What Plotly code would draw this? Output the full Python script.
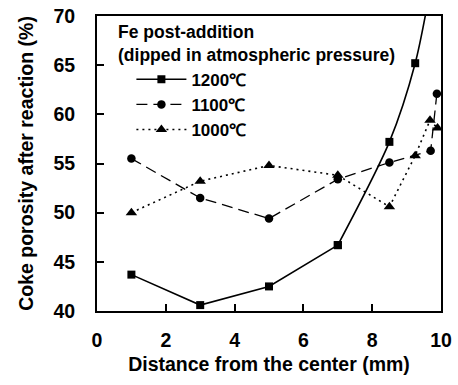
import plotly.graph_objects as go

# Data
x_1200 = [1, 3, 5, 7, 8.5, 9.25, 9.7]
y_1200 = [43.7, 40.6, 42.5, 46.7, 57.2, 65.2, 73.0]
x_1100 = [1, 3, 5, 7, 8.5, 9.7, 9.88]
y_1100 = [55.5, 51.5, 49.4, 53.4, 55.1, 56.3, 62.1]
x_1000 = [1, 3, 5, 7, 8.5, 9.25, 9.68, 9.9]
y_1000 = [50.0, 53.2, 54.8, 53.8, 50.6, 55.8, 59.4, 58.6]
names = ["1200℃", "1100℃", "1000℃"]
x_ticks = [0, 2, 4, 6, 8, 10]
y_ticks = [40, 45, 50, 55, 60, 65, 70]

FONT = "Liberation Sans, Arial, sans-serif"
BLACK = "#000000"

fig = go.Figure()

# 1200 C: straight segments up to x=7, smooth curve afterwards
fig.add_trace(go.Scatter(
    x=x_1200[:4], y=y_1200[:4], mode="lines+markers", name=names[0],
    legendgroup="a", showlegend=True,
    line=dict(color=BLACK, width=1.6),
    marker=dict(symbol="square", size=8, color=BLACK)))
fig.add_trace(go.Scatter(
    x=x_1200[3:], y=y_1200[3:], mode="lines+markers", name=names[0],
    legendgroup="a", showlegend=False,
    line=dict(color=BLACK, width=1.6, shape="spline", smoothing=0.8),
    marker=dict(symbol="square", size=8, color=BLACK)))
fig.add_trace(go.Scatter(
    x=x_1100, y=y_1100, mode="lines+markers", name=names[1],
    line=dict(color=BLACK, width=1.3, dash="11px,6px"),
    marker=dict(symbol="circle", size=8.5, color=BLACK)))
fig.add_trace(go.Scatter(
    x=x_1000, y=y_1000, mode="lines+markers", name=names[2],
    line=dict(color=BLACK, width=1.6, dash="2px,4px"),
    marker=dict(symbol="triangle-up", size=10, color=BLACK)))

fig.add_annotation(
    xref="paper", yref="paper", x=0.056, y=0.985, xanchor="left", yanchor="top",
    align="left", showarrow=False,
    text="Fe post-addition<br>(dipped in atmospheric pressure)",
    font=dict(family=FONT, size=17.5, color=BLACK, weight="bold"))

axis_common = dict(
    showline=True, linecolor=BLACK, linewidth=2, mirror=True,
    showgrid=False, zeroline=False, ticks="inside", ticklen=7, tickwidth=2,
    tickcolor=BLACK,
    tickfont=dict(family=FONT, size=19.5, color=BLACK, weight="bold"))

fig.update_xaxes(range=[0, 10], tickvals=x_ticks, ticktext=[str(v) for v in x_ticks],
                 ticklabelstandoff=11,
                 title=dict(text="Distance from the center (mm)", standoff=7,
                            font=dict(family=FONT, size=19.5, color=BLACK, weight="bold")),
                 **axis_common)
fig.update_yaxes(range=[40, 70], tickvals=y_ticks, ticktext=[str(v) for v in y_ticks],
                 ticklabelstandoff=16,
                 title=dict(text="Coke porosity after reaction (%)", standoff=15,
                            font=dict(family=FONT, size=19.5, color=BLACK, weight="bold")),
                 **axis_common)

fig.update_layout(
    width=458, height=385,
    margin=dict(l=97, r=17, t=16, b=74, autoexpand=False),
    paper_bgcolor="white", plot_bgcolor="white",
    font=dict(family=FONT, color=BLACK, weight="bold"),
    legend=dict(x=0.1, y=0.845, xanchor="left", yanchor="top",
                bgcolor="rgba(0,0,0,0)", borderwidth=0, itemwidth=50,
                tracegroupgap=0,
                font=dict(family=FONT, size=17, color=BLACK, weight="bold")),
)

fig.write_html("out.html")
